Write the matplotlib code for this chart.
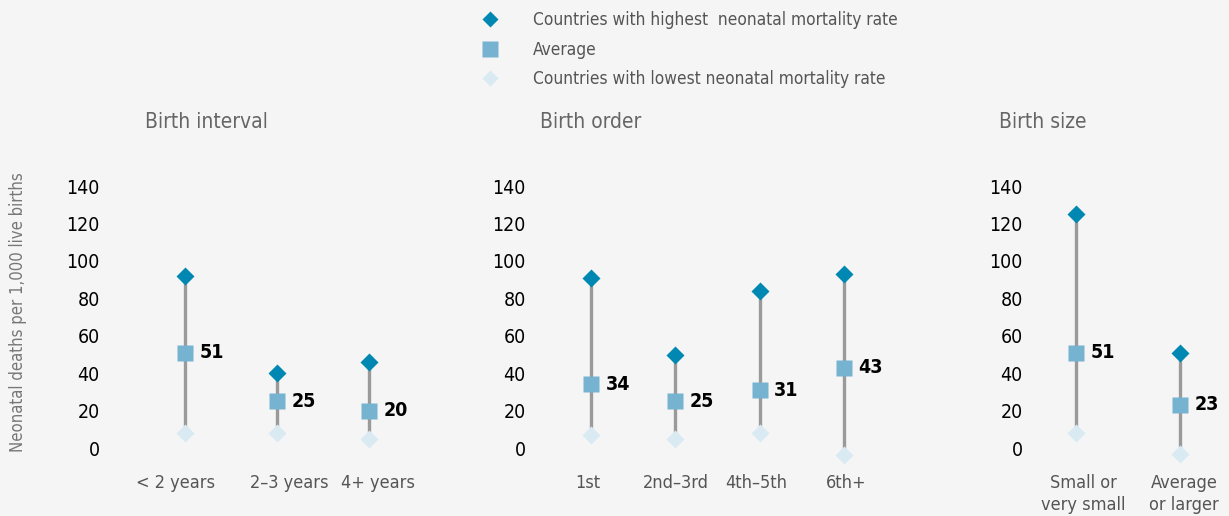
import matplotlib
matplotlib.use("Agg")
import matplotlib.pyplot as plt
from matplotlib.lines import Line2D

# data
interval_cats = ["< 2 years", "2\u20133 years", "4+ years"]
interval_high = [92, 40, 46]
interval_avg = [51, 25, 20]
interval_low = [8, 8, 5]

order_cats = ["1st", "2nd\u20133rd", "4th\u20135th", "6th+"]
order_high = [91, 50, 84, 93]
order_avg = [34, 25, 31, 43]
order_low = [7, 5, 8, -4]

size_cats = ["Small or\nvery small", "Average\nor larger"]
size_high = [125, 51]
size_avg = [51, 23]
size_low = [8, -3]

yticks = [0, 20, 40, 60, 80, 100, 120, 140]

C_HIGH = "#0088b2"
C_AVG = "#76b3d1"
C_LOW = "#d9eaf3"
C_LINE = "#9a9a9a"
BG = "#f5f5f5"

plt.rcParams["font.family"] = ["DejaVu Sans"]
plt.rcParams["font.stretch"] = "condensed"

W, H = 1229, 516
fig = plt.figure(figsize=(W / 100, H / 100), dpi=100, facecolor=BG)

Y0, Y1 = -10, 145
ybot_px = 448 + 10 * 1.87
ytop_px = 448 - 145 * 1.87


def panel(left_px, right_px, x0_px, step_px, title, title_x, cats, high, avg, low,
          label_shift):
    ax = fig.add_axes([left_px / W, 1 - ybot_px / H,
                       (right_px - left_px) / W, (ybot_px - ytop_px) / H])
    ax.set_facecolor(BG)
    ax.set_xlim((left_px - x0_px) / step_px, (right_px - x0_px) / step_px)
    ax.set_ylim(Y0, Y1)
    xs = list(range(len(cats)))
    ax.vlines(xs, low, high, color=C_LINE, lw=2.4, zorder=1)
    ax.plot(xs, high, "D", color=C_HIGH, ms=9.5, mec="none", zorder=3)
    ax.plot(xs, low, "D", color=C_LOW, ms=9.5, mec="none", zorder=3)
    ax.plot(xs, avg, "s", color=C_AVG, ms=11.5, mec="none", zorder=4)
    for x, v in zip(xs, avg):
        ax.annotate(str(v), (x, v), xytext=(10.5, 0), textcoords="offset points",
                    ha="left", va="center", fontsize=14, fontweight="bold",
                    color="black")
    ax.set_yticks(yticks)
    # category labels sit slightly off their markers in the original
    ax.set_xticks([x + dx / step_px for x, dx in zip(xs, label_shift)])
    ax.set_xticklabels(cats, fontsize=13, color="#555555", linespacing=1.3)
    ax.tick_params(axis="y", length=0, labelsize=14, labelcolor="black", pad=3)
    ax.tick_params(axis="x", length=0, pad=5)
    for s in ax.spines.values():
        s.set_visible(False)
    fig.text(title_x / W, 1 - 122 / H, title, ha="center", va="center",
             fontsize=15, color="#666666")
    return ax


panel(104, 430, 185, 92, "Birth interval", 206,
      interval_cats, interval_high, interval_avg, interval_low, [-10, 12, 9])
panel(530, 905, 591, 84.3, "Birth order", 591,
      order_cats, order_high, order_avg, order_low, [-3, 1, -3, 2])
panel(1027, 1229, 1076, 104, "Birth size", 1043,
      size_cats, size_high, size_avg, size_low, [7, 4])

fig.text(18 / W, 1 - 312 / H, "Neonatal deaths per 1,000 live births",
         rotation=90, ha="center", va="center", fontsize=12, color="#777777")

handles = [
    Line2D([], [], ls="none", marker="D", color=C_HIGH, ms=8, mec="none"),
    Line2D([], [], ls="none", marker="s", color=C_AVG, ms=11, mec="none"),
    Line2D([], [], ls="none", marker="D", color=C_LOW, ms=8, mec="none"),
]
labels = ["Countries with highest  neonatal mortality rate", "Average",
          "Countries with lowest neonatal mortality rate"]
fig.legend(handles, labels, loc="upper left", bbox_to_anchor=(474 / W, 1 - 4 / H),
           frameon=False, fontsize=12.4, labelcolor="#555555", handlelength=1,
           handletextpad=2.0, labelspacing=0.68, borderaxespad=0)

fig.savefig("out.png", dpi=100, facecolor=BG)
